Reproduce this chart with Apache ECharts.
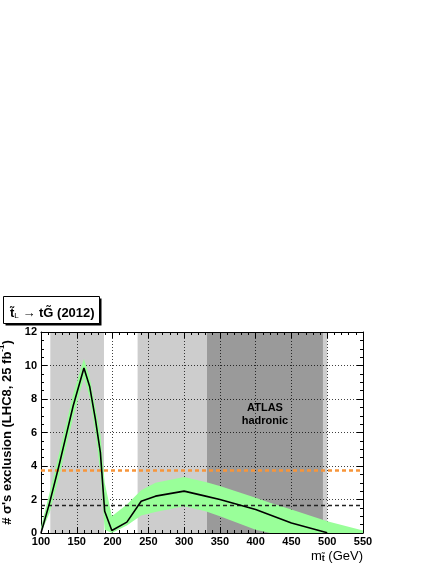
<!DOCTYPE html>
<html>
<head>
<meta charset="utf-8">
<script src="https://cdn.jsdelivr.net/npm/echarts@6/dist/echarts.min.js"></script>
<style>
  html, body { margin: 0; padding: 0; background: #fff; }
  #chart { width: 436px; height: 564px; }
</style>
</head>
<body>
<div id="chart"></div>
<script>
// stop mass (GeV) and number of sigma of the expected exclusion
const massPoints = [100, 112, 125, 135, 145, 160, 168, 176, 183, 189, 199, 220, 240, 260, 300, 330, 350, 400, 450, 500]
const sigmaCentral = [0, 1.8, 4.0, 5.8, 7.6, 9.85, 8.75, 6.8, 4.8, 1.3, 0.15, 0.65, 1.9, 2.2, 2.5, 2.2, 2.0, 1.4, 0.6, 0.02]

// green uncertainty band
const bandMass = [100, 112, 125, 135, 145, 160, 168, 176, 183, 189, 199, 220, 240, 260, 300, 330, 350, 400, 420, 450, 500, 550]
const bandUpper = [0.35, 2.4, 4.7, 6.5, 8.3, 10.4, 9.3, 7.5, 5.9, 3.0, 1.0, 1.7, 2.55, 3.0, 3.35, 3.05, 2.8, 2.1, 1.8, 1.4, 0.7, 0.15]
const bandLower = [0, 1.2, 3.3, 5.1, 6.9, 9.3, 8.1, 6.0, 3.6, 0.2, 0, 0.45, 1.05, 1.25, 1.6, 1.3, 1.0, 0.2, 0, 0, 0, 0]

// reference levels
const orangeLevel = 3.75
const blackLevel = 1.64

// shaded mass ranges
const lightRegions = [[113, 188], [235, 500]]
const darkRegions = [[332, 494]]

const xTicks = { min: 100, max: 550, step: 50 }
const yTicks = { min: 0, max: 12, step: 2 }

const font = 'Liberation Sans'

const chart = echarts.init(document.getElementById('chart'))

const pairs = (xs, ys) => xs.map((x, i) => [x, ys[i]])
const toArea = (ranges) => ranges.map(r => [{ xAxis: r[0] }, { xAxis: r[1] }])

const axisCommon = {
  type: 'value',
  z: 3,
  axisLine: { show: true, onZero: false, lineStyle: { color: '#000', width: 1 } },
  axisTick: { show: true, inside: true, length: 6, lineStyle: { color: '#000' } },
  minorTick: { show: true, length: 3, lineStyle: { color: '#000' } },
  splitLine: { show: false }
}

const labelStyle = { color: '#000', fontFamily: font, fontWeight: 'bold', fontSize: 11 }
const gridLine = { show: true, lineStyle: { color: 'rgba(0,0,0,0.75)', type: [1, 2], width: 1 } }

// band polygon: upper edge left to right, then lower edge back
const renderBand = (params, api) => {
  if (params.dataIndex !== 0) return null
  const pts = []
  bandMass.forEach((m, i) => pts.push(api.coord([m, bandUpper[i]])))
  for (let i = bandMass.length - 1; i >= 0; i--) pts.push(api.coord([bandMass[i], bandLower[i]]))
  return { type: 'polygon', shape: { points: pts }, style: { fill: '#99ff99' } }
}

const option = {
  animation: false,
  grid: { left: 41, top: 332, width: 322, height: 201, outerBoundsMode: 'none' },
  xAxis: [
    Object.assign({}, axisCommon, {
      position: 'bottom',
      min: xTicks.min, max: xTicks.max, interval: xTicks.step,
      minorTick: Object.assign({}, axisCommon.minorTick, { splitNumber: 5 }),
      axisLabel: Object.assign({ margin: 3 }, labelStyle),
      splitLine: gridLine
    }),
    Object.assign({}, axisCommon, {
      position: 'top',
      min: xTicks.min, max: xTicks.max, interval: xTicks.step,
      minorTick: Object.assign({}, axisCommon.minorTick, { splitNumber: 5 }),
      axisLabel: { show: false }
    })
  ],
  yAxis: [
    Object.assign({}, axisCommon, {
      position: 'left',
      min: yTicks.min, max: yTicks.max, interval: yTicks.step,
      minorTick: Object.assign({}, axisCommon.minorTick, { splitNumber: 4 }),
      axisLabel: Object.assign({ margin: 4 }, labelStyle),
      splitLine: gridLine,
      name: '{n|# σ\'s exclusion (LHC8, 25 fb}{s|-1}{n|)}',
      nameLocation: 'middle',
      nameRotate: 90,
      nameGap: 27,
      nameTextStyle: {
        rich: {
          n: { fontFamily: font, fontWeight: 'bold', fontSize: 13, color: '#000', lineHeight: 16, verticalAlign: 'bottom' },
          s: { fontFamily: font, fontWeight: 'bold', fontSize: 8, color: '#000', lineHeight: 16, verticalAlign: 'top' }
        }
      }
    }),
    Object.assign({}, axisCommon, {
      position: 'right',
      min: yTicks.min, max: yTicks.max, interval: yTicks.step,
      minorTick: Object.assign({}, axisCommon.minorTick, { splitNumber: 4 }),
      axisLabel: { show: false }
    })
  ],
  series: [
    {
      name: 'light',
      type: 'line',
      z: 1,
      data: [],
      markArea: { silent: true, itemStyle: { color: '#cdcdcd' }, data: toArea(lightRegions) }
    },
    {
      name: 'dark',
      type: 'line',
      z: 1,
      data: [],
      markArea: { silent: true, itemStyle: { color: '#9a9a9a' }, data: toArea(darkRegions) }
    },
    {
      name: 'band',
      type: 'custom',
      z: 4,
      renderItem: renderBand,
      encode: { x: 0, y: [1, 2] },
      data: bandMass.map((m, i) => [m, bandLower[i], bandUpper[i]])
    },
    {
      name: 'central',
      type: 'line',
      z: 5,
      symbol: 'none',
      lineStyle: { color: '#000', width: 1.6 },
      data: pairs(massPoints, sigmaCentral),
      markLine: {
        silent: true,
        symbol: ['none', 'none'],
        label: { show: false },
        data: [
          { yAxis: orangeLevel, lineStyle: { color: '#f7953a', width: 2.5, type: [4, 3] } },
          { yAxis: blackLevel, lineStyle: { color: '#222', width: 1.4, type: [4, 3] } }
        ]
      }
    }
  ],
  graphic: [
    { type: 'rect', z: 10, shape: { x: 5.5, y: 298.5, width: 96, height: 27 }, style: { fill: '#000' } },
    { type: 'rect', z: 11, shape: { x: 3.5, y: 296.5, width: 96, height: 27 }, style: { fill: '#fff', stroke: '#000', lineWidth: 1 } },
    {
      type: 'text', z: 12, x: 10, y: 311,
      style: {
        text: '{a|t\u0303}{b|L}{a| \u2192 tG\u0303 (2012)}',
        verticalAlign: 'middle',
        rich: {
          a: { fontFamily: font, fontWeight: 'bold', fontSize: 13, fill: '#000', lineHeight: 18, verticalAlign: 'bottom' },
          b: { fontFamily: font, fontSize: 8, fill: '#000', lineHeight: 12, verticalAlign: 'bottom' }
        }
      }
    },
    {
      type: 'text', z: 12, x: 265, y: 408,
      style: { text: 'ATLAS', fontFamily: font, fontWeight: 'bold', fontSize: 11, fill: '#000', align: 'center', verticalAlign: 'middle' }
    },
    {
      type: 'text', z: 12, x: 265, y: 421,
      style: { text: 'hadronic', fontFamily: font, fontWeight: 'bold', fontSize: 11, fill: '#000', align: 'center', verticalAlign: 'middle' }
    },
    {
      type: 'text', z: 12, x: 363, y: 555,
      style: {
        text: '{a|m}{b|t\u0303}{a| (GeV)}',
        align: 'right',
        verticalAlign: 'middle',
        rich: {
          a: { fontFamily: font, fontSize: 13, fill: '#000', lineHeight: 16, verticalAlign: 'bottom' },
          b: { fontFamily: font, fontWeight: 'bold', fontSize: 9, fill: '#000', lineHeight: 10, verticalAlign: 'bottom' }
        }
      }
    }
  ]
}

chart.setOption(option)
</script>
</body>
</html>
